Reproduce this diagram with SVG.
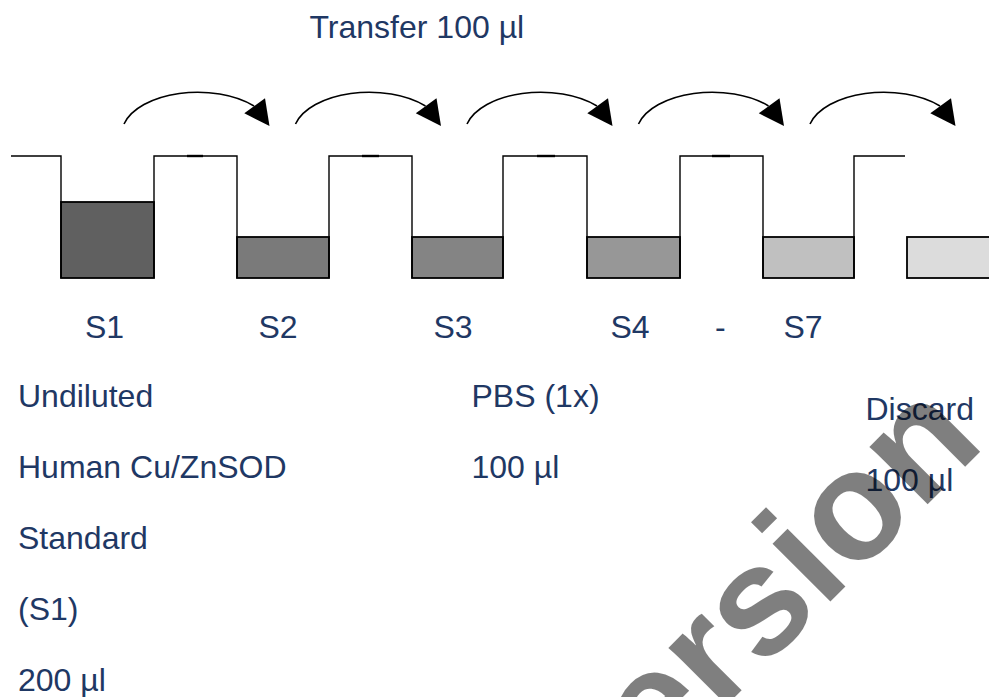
<svg xmlns="http://www.w3.org/2000/svg" xmlns:xlink="http://www.w3.org/1999/xlink" width="989" height="697" viewBox="0 0 989 697">
<style>
  .t { font-family: "Liberation Sans", Arial, sans-serif; font-size: 32px; fill: #1f3864; }
  .rim { fill: none; stroke: #000; stroke-width: 1.4; }
  .liq { stroke: #000; stroke-width: 1.8; }
  .mark { stroke: #000; stroke-width: 2.4; }
  .arc { fill: none; stroke: #000; stroke-width: 1.6; }
  .wm { font-family: "Liberation Sans", Arial, sans-serif; font-weight: bold; font-size: 155px; fill: #000; fill-opacity: 0.5; }
</style>
<defs>
  <g id="transfer">
    <path class="arc" d="M124,124 A76,42 0 0 1 254,106"/>
    <polygon points="269.5,126 244.3,113.3 265,98.3" fill="#000"/>
  </g>
</defs>
<rect width="989" height="697" fill="#fff"/>

<g id="title">
  <text class="t" x="309.5" y="38">Transfer 100 µl</text>
</g>

<g id="plate">
  <g id="well-s1"><rect class="liq" x="61" y="202" width="93" height="76" fill="#606060"/></g>
  <g id="well-s2"><rect class="liq" x="237" y="237" width="92" height="41" fill="#7a7a7a"/></g>
  <g id="well-s3"><rect class="liq" x="412" y="237" width="91" height="41" fill="#848484"/></g>
  <g id="well-s4"><rect class="liq" x="587" y="237" width="93" height="41" fill="#979797"/></g>
  <g id="well-s7"><rect class="liq" x="763" y="237" width="91" height="41" fill="#c0c0c0"/></g>
  <g id="discard-well"><rect class="liq" x="907" y="237" width="90" height="41" fill="#dcdcdc"/></g>
  <path class="rim" d="M11,156 H61 V278 M154,278 V156 H237 V278 M329,278 V156 H412 V278 M503,278 V156 H587 V278 M680,278 V156 H763 V278 M854,278 V156 H905"/>
  <line class="mark" x1="187" y1="156" x2="203" y2="156"/>
  <line class="mark" x1="362" y1="156" x2="379" y2="156"/>
  <line class="mark" x1="537" y1="156" x2="555" y2="156"/>
  <line class="mark" x1="712" y1="156" x2="730" y2="156"/>
</g>

<g id="connectors">
  <use xlink:href="#transfer"/>
  <use xlink:href="#transfer" transform="translate(171.5,0)"/>
  <use xlink:href="#transfer" transform="translate(343,0)"/>
  <use xlink:href="#transfer" transform="translate(514.5,0)"/>
  <use xlink:href="#transfer" transform="translate(686,0)"/>
</g>

<g id="labels">
  <text class="t" x="85" y="338">S1</text>
  <text class="t" x="258.5" y="338">S2</text>
  <text class="t" x="433.5" y="338">S3</text>
  <text class="t" x="610.5" y="338">S4</text>
  <text class="t" x="715" y="338">-</text>
  <text class="t" x="783.5" y="338">S7</text>
</g>

<g id="standard-note">
  <text class="t" x="18" y="407">Undiluted</text>
  <text class="t" x="18" y="477.5">Human Cu/ZnSOD</text>
  <text class="t" x="18" y="548.5">Standard</text>
  <text class="t" x="18" y="619.5">(S1)</text>
  <text class="t" x="18" y="691">200 µl</text>
</g>

<g id="pbs-note">
  <text class="t" x="471.5" y="407">PBS (1x)</text>
  <text class="t" x="471.5" y="477.5">100 µl</text>
</g>

<g id="discard-note">
  <text class="t" x="865.5" y="420">Discard</text>
  <text class="t" x="865.5" y="491">100 µl</text>
</g>

<g id="watermark">
  <text class="wm" transform="translate(585,847) rotate(-45)" x="103.4" y="0">ersion</text>
</g>
</svg>
